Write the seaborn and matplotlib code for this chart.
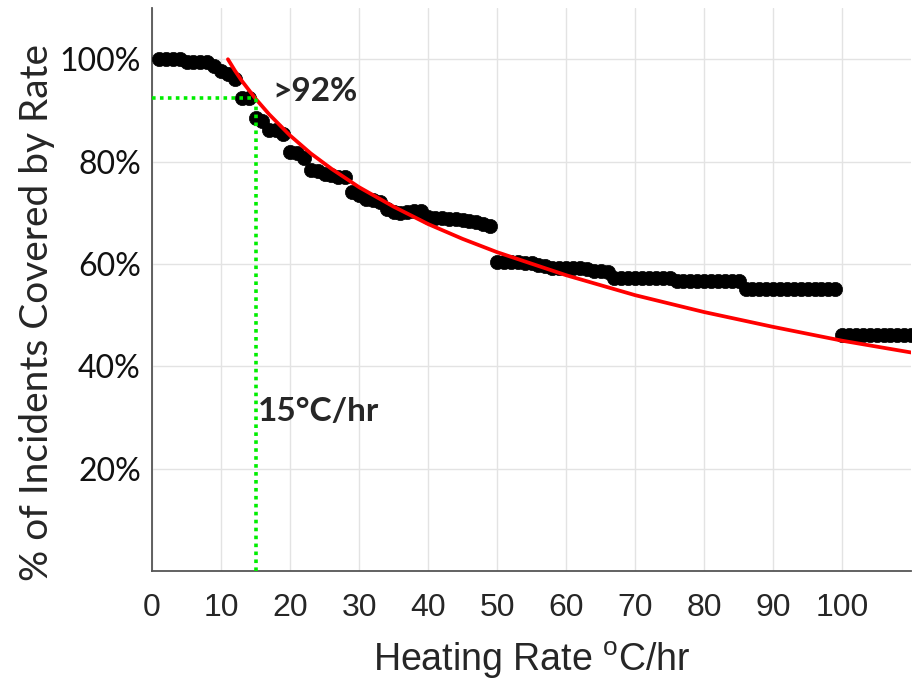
import numpy as np
import pandas as pd
import seaborn as sns
import matplotlib.pyplot as plt
from matplotlib.ticker import FuncFormatter

# heating rate (degC/hr) and share of incidents covered (%)
rate = list(range(1, 111))
coverage = [100.0, 100.0, 100.0, 100.0,
            99.5, 99.5, 99.5, 99.5,
            98.6, 97.8, 97.2, 96.2,
            92.5, 92.5,
            88.6, 88.0,
            86.1, 86.1, 85.4,
            81.8, 81.6, 80.8,
            78.3, 78.1, 77.6, 77.3, 77.0, 77.0,
            74.1, 73.5, 72.7, 72.4, 72.1,
            70.8, 70.1, 70.0, 70.1, 70.3, 70.3,
            69.1, 69.0, 69.0, 68.8, 68.8, 68.6, 68.4, 68.2, 67.8, 67.4,
            60.4, 60.4, 60.4, 60.4, 60.2, 60.2,
            59.8, 59.6, 59.2, 59.2, 59.2, 59.2, 59.2, 59.0,
            58.6, 58.6, 58.4,
            57.2, 57.2, 57.2, 57.2, 57.2, 57.2, 57.2, 57.2, 57.2,
            56.6, 56.6, 56.6, 56.6, 56.6, 56.6, 56.6, 56.6, 56.6, 56.6,
            55.2, 55.2, 55.2, 55.2, 55.2, 55.2, 55.2, 55.2, 55.2, 55.2, 55.2, 55.2, 55.2, 55.2,
            46.2, 46.2, 46.2, 46.2, 46.2, 46.2, 46.2, 46.2, 46.2, 46.2, 46.2]

# fitted trend curve
fit_rate = [11, 12, 13, 15, 17, 20, 23, 26, 30, 35, 40, 45, 50, 60, 70, 80, 90, 100, 110]
fit_cov = [100.0, 97.8, 95.8, 92.3, 89.2, 85.1, 81.6, 78.6, 75.0, 71.2, 67.8, 64.9,
           62.3, 57.8, 53.9, 50.6, 47.7, 45.0, 42.7]

threshold_rate = 15
threshold_cov = 92.5

df = pd.DataFrame({"rate": rate, "coverage": coverage})
fit = pd.DataFrame({"rate": fit_rate, "coverage": fit_cov})

sns.set_style("white")
plt.rcParams['font.family'] = ['Lato', 'DejaVu Sans']

fig = plt.figure(figsize=(9.13, 6.84), dpi=100)
ax = fig.add_axes([0.1665, 0.1652, 0.8315, 0.823])

ax.grid(True, color="#e3e3e3", linewidth=1.0, zorder=0)
ax.set_axisbelow(True)

sns.scatterplot(data=df, x="rate", y="coverage", color="black", s=105,
                edgecolor="black", linewidth=0.5, ax=ax, zorder=3, clip_on=True)
sns.lineplot(data=fit, x="rate", y="coverage", color="red", linewidth=2.7,
             ax=ax, zorder=4)

# threshold guide lines
ax.plot([0, threshold_rate], [threshold_cov, threshold_cov], color="#00ee00",
        linestyle=(0, (1, 1.2)), linewidth=2.6, zorder=5)
ax.plot([threshold_rate, threshold_rate], [0, threshold_cov], color="#00ee00",
        linestyle=(0, (1, 1.2)), linewidth=2.6, zorder=5)

ax.text(17.5, 93.6, ">92%", fontsize=24, fontweight="bold", va="center", ha="left")
ax.text(15.3, 31.2, "15\u00b0C/hr", fontsize=24, fontweight="bold", va="center", ha="left")

ax.set_xlim(0, 110)
ax.set_ylim(0, 110)
ax.set_xticks(range(0, 101, 10))
ax.set_yticks([20, 40, 60, 80, 100])
ax.yaxis.set_major_formatter(FuncFormatter(lambda v, p: f"{int(v)}%"))

ax.tick_params(direction="in", length=5, width=1.2, color="#404040")
ax.tick_params(axis="x", pad=16, labelsize=23, labelcolor="#262626",
               labelfontfamily="Liberation Sans")
ax.tick_params(axis="y", pad=8, labelsize=23, labelcolor="#111111")

sns.despine(ax=ax)
for side in ["left", "bottom"]:
    ax.spines[side].set_color("#555555")
    ax.spines[side].set_linewidth(1.3)

ax.set_xlabel("Heating Rate $^\\mathregular{o}$C/hr", fontsize=27,
              fontfamily="Liberation Sans", color="#262626", labelpad=12)
ax.set_ylabel("% of Incidents Covered by Rate", fontsize=28)
ax.yaxis.set_label_coords(-0.128, 0.46)

fig.savefig("out.png", dpi=100)
